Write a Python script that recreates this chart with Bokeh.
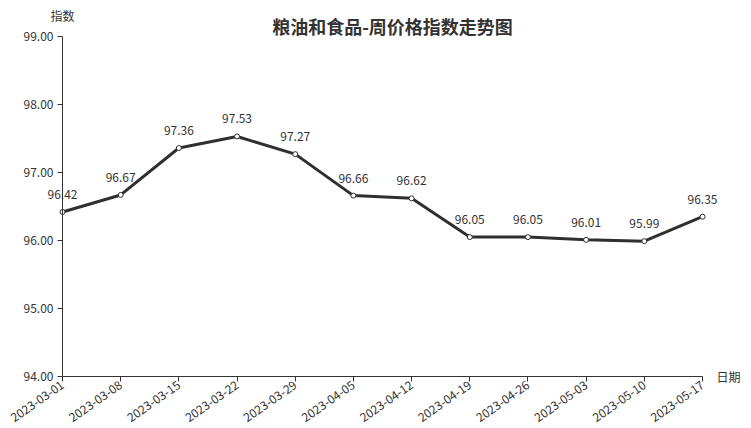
import math
from bokeh.plotting import figure
from bokeh.models import ColumnDataSource, FixedTicker, Label, NumeralTickFormatter, Range1d
from bokeh.core.properties import value
from bokeh.embed import file_html
from bokeh.resources import INLINE

dates = ["2023-03-01", "2023-03-08", "2023-03-15", "2023-03-22", "2023-03-29", "2023-04-05",
         "2023-04-12", "2023-04-19", "2023-04-26", "2023-05-03", "2023-05-10", "2023-05-17"]
index_values = [96.42, 96.67, 97.36, 97.53, 97.27, 96.66, 96.62, 96.05, 96.05, 96.01, 95.99, 96.35]
y_ticks = [94, 95, 96, 97, 98, 99]
y_min, y_max = 94, 99

FONT = "Noto Sans CJK SC"
TXT = "#333333"

W, H = 751, 428
# plot box in pixels (left, right, top, bottom)
PL, PR, PT, PB = 62, 702, 36, 376
n = len(dates)
xs = list(range(n))
xscale = (PR - PL) / (n - 1)
yscale = (PB - PT) / (y_max - y_min)
x_range = Range1d(-PL / xscale, (n - 1) + (W - PR) / xscale)
y_range = Range1d(y_min - (H - PB) / yscale, y_max + PT / yscale)

src = ColumnDataSource(dict(x=xs, y=index_values, lab=[f"{v:.2f}" for v in index_values]))

p = figure(width=W, height=H, output_backend="svg", toolbar_location=None,
           x_range=x_range, y_range=y_range, min_border=0)
p.outline_line_color = None
p.xgrid.visible = False
p.ygrid.visible = False

p.line("x", "y", source=src, line_color="#2f2f2f", line_width=3)
p.scatter("x", "y", source=src, size=5, fill_color="white", line_color="#2f2f2f", line_width=1)
p.text("x", "y", text="lab", source=src, text_align="center", text_baseline="bottom",
       y_offset=-13, text_font=value(FONT), text_font_size="12px", text_color=TXT)

for ax in (p.xaxis[0], p.yaxis[0]):
    ax.axis_line_color = TXT
    ax.axis_line_width = 1
    ax.major_tick_line_color = TXT
    ax.major_tick_out = 5
    ax.major_tick_in = 0
    ax.minor_tick_line_color = None
    ax.major_label_text_font = FONT
    ax.major_label_text_font_size = "12px"
    ax.major_label_text_color = TXT

p.yaxis.fixed_location = 0
p.yaxis.bounds = (y_min, y_max)
p.yaxis.ticker = FixedTicker(ticks=y_ticks)
p.yaxis.formatter = NumeralTickFormatter(format="0.00")
p.yaxis.major_label_standoff = 4

p.xaxis.fixed_location = y_min
p.xaxis.bounds = (0, n - 1)
p.xaxis.ticker = FixedTicker(ticks=xs)
p.xaxis.major_label_overrides = {i: d for i, d in enumerate(dates)}
p.xaxis.major_label_orientation = math.radians(35)
p.xaxis.major_label_standoff = 2

p.add_layout(Label(x=0, y=y_max, y_offset=21, text="指数", text_align="center", text_baseline="middle",
                   text_font=FONT, text_font_size="12px", text_color=TXT))
p.add_layout(Label(x=n - 1, y=y_min, x_offset=14, text="日期", text_align="left", text_baseline="middle",
                   text_font=FONT, text_font_size="12px", text_color=TXT))
p.add_layout(Label(x=(n - 1) / 2, y=y_max, x_offset=10, y_offset=11, text="粮油和食品-周价格指数走势图",
                   text_align="center", text_baseline="middle",
                   text_font=FONT, text_font_size="18px", text_font_style="bold", text_color=TXT))

open("out.html", "w").write(file_html(p, INLINE))
